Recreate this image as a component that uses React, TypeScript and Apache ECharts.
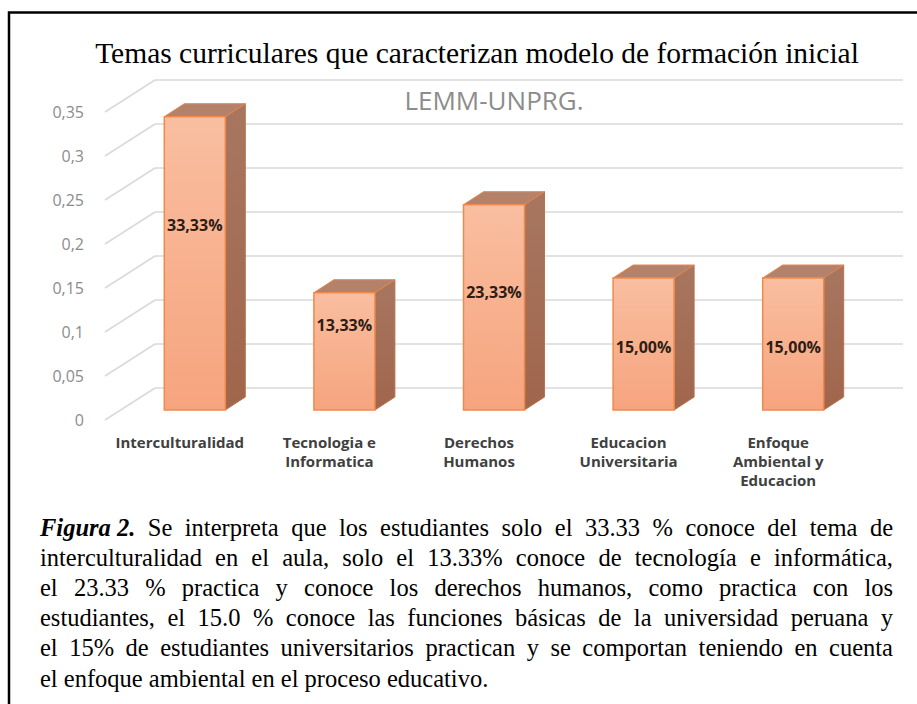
import React, { useEffect, useRef } from "react";
import * as echarts from "echarts";

// ---------- data ----------
const categories = [
  "Interculturalidad",
  "Tecnologia e\nInformatica",
  "Derechos\nHumanos",
  "Educacion\nUniversitaria",
  "Enfoque\nAmbiental y\nEducacion",
];
const values = [0.3333, 0.1333, 0.2333, 0.15, 0.15];
// where the data label sits inside each bar (in data units)
const labelAt = [0.21, 0.097, 0.134, 0.072, 0.072];
const yTicks = [0, 0.05, 0.1, 0.15, 0.2, 0.25, 0.3, 0.35];

const titleText = "Temas curriculares que caracterizan modelo de formación inicial";
const watermarkText = "LEMM-UNPRG.";
const captionLead = "Figura 2.";
const captionLines = [
  "Se interpreta que los estudiantes solo el 33.33 % conoce del tema de",
  "interculturalidad en el aula, solo el 13.33% conoce de tecnología e informática,",
  "el 23.33 % practica y conoce los derechos humanos, como practica con los",
  "estudiantes, el 15.0 % conoce las funciones básicas de la universidad peruana y",
  "el 15% de estudiantes universitarios practican y se comportan teniendo en cuenta",
  "el enfoque ambiental en el proceso educativo.",
];

// ---------- styling constants ----------
const SERIF = "'Liberation Serif', 'Times New Roman', serif";
const SANS = "'Open Sans', 'Noto Sans', sans-serif";
const FLOOR_DX = -50; // front edge of floor relative to back wall
const FLOOR_DY = 32;
const BAR_DX = -35; // bar front face relative to back wall
const BAR_DY = 22;
const DEPTH_X = 20; // bar depth
const DEPTH_Y = -13;
const BAR_W = 61;
const CAP_X = 40;
const CAP_W = 853;
const CAP_Y0 = 527;
const CAP_LH = 30.2;
const CAP_FS = 24.5;

function fmtPct(v: number) {
  return (v * 100).toFixed(2).replace(".", ",") + "%";
}

function buildCaption(): any[] {
  const canvas = document.createElement("canvas");
  const ctx = canvas.getContext("2d") as CanvasRenderingContext2D;
  const measure = (t: string, font: string) => {
    ctx.font = font;
    return ctx.measureText(t).width;
  };
  const reg = `${CAP_FS}px ${SERIF}`;
  const bi = `italic bold ${CAP_FS}px ${SERIF}`;
  const out: any[] = [];
  captionLines.forEach((line, li) => {
    const y = CAP_Y0 + li * CAP_LH;
    const isLast = li === captionLines.length - 1;
    if (isLast) {
      out.push({
        type: "text",
        x: CAP_X,
        y,
        style: {
          text: line,
          fontFamily: SERIF,
          fontSize: CAP_FS,
          fill: "#000",
          align: "left",
          verticalAlign: "middle",
        },
      });
      return;
    }
    const words = line.split(" ");
    let total = words.reduce((s, w) => s + measure(w, reg), 0);
    let nGaps = words.length - 1;
    if (li === 0) {
      total += measure(captionLead, bi);
      nGaps += 1;
    }
    const gap = Math.max(2.5, (CAP_W - total) / nGaps);
    let txt = "";
    if (li === 0) txt += `{f|${captionLead}}{g| }`;
    txt += words.join("{g| }");
    out.push({
      type: "text",
      x: CAP_X,
      y,
      style: {
        text: txt,
        fontFamily: SERIF,
        fontSize: CAP_FS,
        fill: "#000",
        align: "left",
        verticalAlign: "middle",
        rich: {
          f: {
            fontFamily: SERIF,
            fontSize: CAP_FS,
            fontWeight: "bold",
            fontStyle: "italic",
            fill: "#000",
          },
          g: { width: gap, fontFamily: SERIF, fontSize: CAP_FS },
        },
      },
    });
  });
  return out;
}

export default function App() {
  const ref = useRef<HTMLDivElement>(null);
  useEffect(() => {
    if (!ref.current) return;
    const chart = echarts.init(ref.current, null, { renderer: "svg" });
    const yMin = yTicks[0];
    const yMax = yTicks[yTicks.length - 1];
    const yInt = yTicks[1] - yTicks[0];

    const option: any = {
      animation: false,
      backgroundColor: "#ffffff",
      grid: [
        { left: 155, right: 14, top: 80, bottom: 316 },
        { left: 155 + FLOOR_DX, right: 14 - FLOOR_DX, top: 80 + FLOOR_DY, bottom: 316 - FLOOR_DY },
      ],
      xAxis: [
        {
          type: "category",
          gridIndex: 0,
          data: categories,
          axisLine: { show: false },
          axisTick: { show: false },
          axisLabel: { show: false },
        },
        {
          type: "category",
          gridIndex: 1,
          data: categories,
          axisLine: { show: false },
          axisTick: { show: false },
          axisLabel: {
            interval: 0,
            fontFamily: SANS,
            fontWeight: "bold",
            fontSize: 15,
            color: "#404040",
            lineHeight: 19,
            margin: 12,
          },
        },
      ],
      yAxis: [
        {
          type: "value",
          gridIndex: 0,
          min: yMin,
          max: yMax,
          interval: yInt,
          axisLine: { show: false },
          axisTick: { show: false },
          axisLabel: { show: false },
          splitLine: { lineStyle: { color: "#D9D9D9", width: 1.5 } },
        },
        {
          type: "value",
          gridIndex: 1,
          min: yMin,
          max: yMax,
          interval: yInt,
          axisLine: { show: false },
          axisTick: { show: false },
          splitLine: { show: false },
          axisLabel: {
            formatter: (v: number) => String(+v.toFixed(2)).replace(".", ","),
            color: "#8C8C8C",
            fontFamily: SANS,
            fontSize: 16,
            margin: 21,
          },
        },
      ],
      series: [
        {
          type: "custom",
          xAxisIndex: 0,
          yAxisIndex: 0,
          silent: true,
          data: yTicks.map((v) => [0, v]),
          encode: { x: 0, y: 1 },
          renderItem: (params: any, api: any) => {
            const p = api.coord([0, api.value(1)]);
            const x0 = params.coordSys.x;
            return {
              type: "line",
              shape: { x1: x0 + FLOOR_DX, y1: p[1] + FLOOR_DY, x2: x0, y2: p[1] },
              style: { stroke: "#D9D9D9", lineWidth: 1.5 },
            };
          },
        },
        {
          type: "custom",
          xAxisIndex: 0,
          yAxisIndex: 0,
          data: values.map((v, i) => [i, v, labelAt[i]]),
          encode: { x: 0, y: 1 },
          renderItem: (params: any, api: any) => {
            const i = api.value(0);
            const v = api.value(1);
            const la = api.value(2);
            const top = api.coord([i, v]);
            const base = api.coord([i, 0]);
            const lab = api.coord([i, la]);
            const cx = top[0] + BAR_DX;
            const yt = top[1] + BAR_DY;
            const yb = base[1] + BAR_DY;
            const xl = cx - BAR_W / 2;
            const xr = cx + BAR_W / 2;
            return {
              type: "group",
              children: [
                {
                  type: "polygon",
                  shape: {
                    points: [
                      [xr, yt],
                      [xr + DEPTH_X, yt + DEPTH_Y],
                      [xr + DEPTH_X, yb + DEPTH_Y],
                      [xr, yb],
                    ],
                  },
                  style: {
                    fill: new echarts.graphic.LinearGradient(0, 0, 0, 1, [
                      { offset: 0, color: "#A87660" },
                      { offset: 1, color: "#A0664C" },
                    ]),
                    stroke: "#B8724E",
                    lineWidth: 1,
                  },
                },
                {
                  type: "polygon",
                  shape: {
                    points: [
                      [xl, yt],
                      [xl + DEPTH_X, yt + DEPTH_Y],
                      [xr + DEPTH_X, yt + DEPTH_Y],
                      [xr, yt],
                    ],
                  },
                  style: { fill: "#B4826A", stroke: "#E8844A", lineWidth: 1 },
                },
                {
                  type: "rect",
                  shape: { x: xl, y: yt, width: BAR_W, height: yb - yt },
                  style: {
                    fill: new echarts.graphic.LinearGradient(0, 0, 0, 1, [
                      { offset: 0, color: "#F9BEA0" },
                      { offset: 1, color: "#F6A47E" },
                    ]),
                    stroke: "#EF8A4C",
                    lineWidth: 1.5,
                  },
                },
                {
                  type: "text",
                  style: {
                    text: fmtPct(v),
                    x: cx,
                    y: lab[1] + BAR_DY,
                    align: "center",
                    verticalAlign: "middle",
                    fontFamily: SANS,
                    fontWeight: "bold",
                    fontSize: 16,
                    fill: "#2E1D14",
                  },
                },
              ],
            };
          },
        },
      ],
      graphic: [
        {
          type: "rect",
          silent: true,
          shape: { x: 9, y: 12.5, width: 1200, height: 1200 },
          style: { fill: "none", stroke: "#000", lineWidth: 2.5 },
        },
        {
          type: "text",
          x: 477,
          y: 53,
          style: {
            text: titleText,
            fontFamily: SERIF,
            fontSize: 29.5,
            fill: "#000",
            align: "center",
            verticalAlign: "middle",
          },
        },
        {
          type: "text",
          x: 494,
          y: 100,
          style: {
            text: watermarkText,
            fontFamily: SANS,
            fontSize: 26,
            fill: "#8C8C8C",
            align: "center",
            verticalAlign: "middle",
          },
        },
        ...buildCaption(),
      ],
    };
    chart.setOption(option);
    return () => chart.dispose();
  }, []);
  return (
    <div
      ref={ref}
      style={{ position: "absolute", left: 0, top: 0, width: 917, height: 704 }}
    />
  );
}
